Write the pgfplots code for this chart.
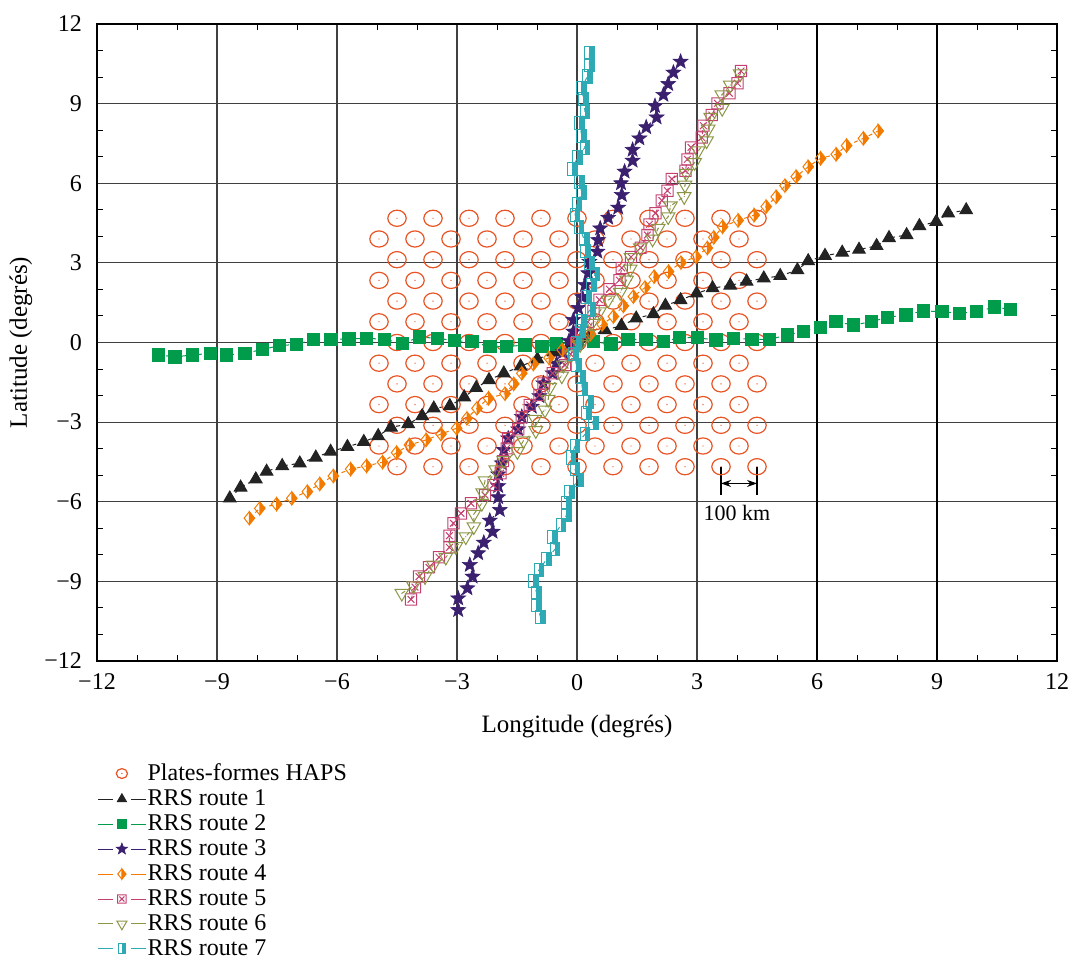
\documentclass[border=0pt]{standalone}
\usepackage{pgfplots}
\pgfplotsset{compat=1.18}
\usepackage{fontspec}
\setmainfont{Liberation Serif}
\usetikzlibrary{arrows.meta}

\definecolor{cHaps}{RGB}{232,84,36}
\definecolor{cR1}{RGB}{35,35,35}
\definecolor{cR2}{RGB}{0,155,75}
\definecolor{cR3}{RGB}{58,32,110}
\definecolor{cR4}{RGB}{242,122,0}
\definecolor{cR5}{RGB}{196,64,112}
\definecolor{cR6}{RGB}{140,150,70}
\definecolor{cR7}{RGB}{45,170,180}

\pgfdeclareplotmark{haps}{%
  \pgfpathellipse{\pgfpointorigin}{\pgfqpoint{\pgfplotmarksize}{0pt}}{\pgfqpoint{0pt}{0.88\pgfplotmarksize}}%
  \pgfusepathqstroke
  \pgfpathcircle{\pgfpointorigin}{0.35pt}%
  \pgfusepathqfill}
\pgfdeclareplotmark{fstar}{%
  \pgfpathmoveto{\pgfpointpolar{90}{\pgfplotmarksize}}%
  \pgfpathlineto{\pgfpointpolar{126}{0.42\pgfplotmarksize}}%
  \pgfpathlineto{\pgfpointpolar{162}{\pgfplotmarksize}}%
  \pgfpathlineto{\pgfpointpolar{198}{0.42\pgfplotmarksize}}%
  \pgfpathlineto{\pgfpointpolar{234}{\pgfplotmarksize}}%
  \pgfpathlineto{\pgfpointpolar{270}{0.42\pgfplotmarksize}}%
  \pgfpathlineto{\pgfpointpolar{306}{\pgfplotmarksize}}%
  \pgfpathlineto{\pgfpointpolar{342}{0.42\pgfplotmarksize}}%
  \pgfpathlineto{\pgfpointpolar{18}{\pgfplotmarksize}}%
  \pgfpathlineto{\pgfpointpolar{54}{0.42\pgfplotmarksize}}%
  \pgfpathclose
  \pgfusepathqfillstroke}
\pgfdeclareplotmark{hdiamond}{%
  \pgfpathmoveto{\pgfqpoint{0pt}{\pgfplotmarksize}}%
  \pgfpathlineto{\pgfqpoint{0.8\pgfplotmarksize}{0pt}}%
  \pgfpathlineto{\pgfqpoint{0pt}{-\pgfplotmarksize}}%
  \pgfpathclose
  \pgfusepathqfillstroke
  \pgfpathmoveto{\pgfqpoint{0pt}{\pgfplotmarksize}}%
  \pgfpathlineto{\pgfqpoint{-0.8\pgfplotmarksize}{0pt}}%
  \pgfpathlineto{\pgfqpoint{0pt}{-\pgfplotmarksize}}%
  \pgfusepathqstroke}
\pgfdeclareplotmark{xsquare}{%
  \pgfpathrectangle{\pgfqpoint{-\pgfplotmarksize}{-\pgfplotmarksize}}{\pgfqpoint{2\pgfplotmarksize}{2\pgfplotmarksize}}%
  \pgfpathmoveto{\pgfqpoint{-0.6\pgfplotmarksize}{-0.6\pgfplotmarksize}}%
  \pgfpathlineto{\pgfqpoint{0.6\pgfplotmarksize}{0.6\pgfplotmarksize}}%
  \pgfpathmoveto{\pgfqpoint{-0.6\pgfplotmarksize}{0.6\pgfplotmarksize}}%
  \pgfpathlineto{\pgfqpoint{0.6\pgfplotmarksize}{-0.6\pgfplotmarksize}}%
  \pgfusepathqstroke}
\pgfdeclareplotmark{dtri}{%
  \pgfpathmoveto{\pgfqpoint{0pt}{-\pgfplotmarksize}}%
  \pgfpathlineto{\pgfqpoint{0.866\pgfplotmarksize}{0.5\pgfplotmarksize}}%
  \pgfpathlineto{\pgfqpoint{-0.866\pgfplotmarksize}{0.5\pgfplotmarksize}}%
  \pgfpathclose
  \pgfusepathqstroke
  \pgfpathcircle{\pgfpointorigin}{0.3pt}%
  \pgfusepathqfill}
\pgfdeclareplotmark{hsquare}{%
  \pgfpathrectangle{\pgfqpoint{-0.75\pgfplotmarksize}{-\pgfplotmarksize}}{\pgfqpoint{1.5\pgfplotmarksize}{2\pgfplotmarksize}}%
  \pgfusepathqstroke
  \pgfpathrectangle{\pgfqpoint{-0.05\pgfplotmarksize}{-\pgfplotmarksize}}{\pgfqpoint{0.8\pgfplotmarksize}{2\pgfplotmarksize}}%
  \pgfusepathqfill}

\pgfplotsset{
  rleg/.style={legend image code/.code={%
    \draw[##1,solid] (0pt,0pt) -- (7.5pt,0pt) (16.5pt,0pt) -- (24pt,0pt);
    \draw[##1,solid,only marks,mark size=#1] plot coordinates {(12pt,0pt)};}},
  hapslegend/.style={legend image code/.code={\draw[##1, mark size=2.8pt] plot coordinates {(12pt,0pt)};}},
}

\begin{document}
\begin{tikzpicture}
\useasboundingbox (-48.5pt,-150pt) rectangle (486.5pt,330.5pt);
\begin{axis}[
  at={(0,0)}, anchor=south west,
  width=480pt, height=318.5pt, scale only axis,
  xmin=-12, xmax=12, ymin=-12, ymax=12,
  xtick={-12,-9,-6,-3,0,3,6,9,12},
  xticklabels={−12,−9,−6,−3,0,3,6,9,12},
  ytick={-12,-9,-6,-3,0,3,6,9,12},
  yticklabels={−12,−9,−6,−3,0,3,6,9,12},
  minor tick num=2,
  tick align=inside,
  grid=major, major grid style={black!75, line width=0.6pt},
  axis line style={line width=0.8pt},
  major tick style={draw=none},
  minor tick style={draw=black, line width=0.5pt},
  minor tick length=3pt,
  extra x ticks={6,9}, extra x tick labels={},
  extra x tick style={grid=major, major grid style={black, line width=1.4pt}},
  xlabel={Longitude (degrés)}, ylabel={Latitude (degrés)},
  every axis x label/.style={at={(axis description cs:0.5,0)}, anchor=center, yshift=-33pt, font=\fontsize{12.5}{14}\selectfont},
  every axis y label/.style={at={(axis description cs:0,0.5)}, xshift=-38pt, rotate=90, anchor=center, font=\fontsize{12.5}{14}\selectfont},
  tick label style={font=\fontsize{12}{14}\selectfont},
  xticklabel style={yshift=-3pt},
  yticklabel style={xshift=-4pt},
  legend style={at={(0,0)}, anchor=north west, yshift=-50.5pt, draw=none, fill=none,
    inner sep=0pt, font=\fontsize{12}{14}\selectfont, row sep=1.85pt,
    nodes={inner sep=0.6pt}},
  legend cell align=left,
  every axis plot/.append style={line width=0.5pt, dash pattern=on 2pt off 2pt},
]
% HAPS platforms (hexagonal grid)
\addplot[only marks, mark=haps, mark size=4.6pt, color=cHaps, fill=cHaps, mark options={solid, line width=0.6pt}, hapslegend] coordinates {
(-4.5,4.68)(-3.6,4.68)(-2.7,4.68)(-1.8,4.68)(-0.9,4.68)(0,4.68)(0.9,4.68)(1.8,4.68)(2.7,4.68)(3.6,4.68)(4.5,4.68)
(-4.95,3.9)(-4.05,3.9)(-3.15,3.9)(-2.25,3.9)(-1.35,3.9)(-0.45,3.9)(0.45,3.9)(1.35,3.9)(2.25,3.9)(3.15,3.9)(4.05,3.9)
(-4.5,3.12)(-3.6,3.12)(-2.7,3.12)(-1.8,3.12)(-0.9,3.12)(0,3.12)(0.9,3.12)(1.8,3.12)(2.7,3.12)(3.6,3.12)(4.5,3.12)
(-4.95,2.34)(-4.05,2.34)(-3.15,2.34)(-2.25,2.34)(-1.35,2.34)(-0.45,2.34)(0.45,2.34)(1.35,2.34)(2.25,2.34)(3.15,2.34)(4.05,2.34)
(-4.5,1.56)(-3.6,1.56)(-2.7,1.56)(-1.8,1.56)(-0.9,1.56)(0,1.56)(0.9,1.56)(1.8,1.56)(2.7,1.56)(3.6,1.56)(4.5,1.56)
(-4.95,0.78)(-4.05,0.78)(-3.15,0.78)(-2.25,0.78)(-1.35,0.78)(-0.45,0.78)(0.45,0.78)(1.35,0.78)(2.25,0.78)(3.15,0.78)(4.05,0.78)
(-4.5,0)(-3.6,0)(-2.7,0)(-1.8,0)(-0.9,0)(0,0)(0.9,0)(1.8,0)(2.7,0)(3.6,0)(4.5,0)
(-4.95,-0.78)(-4.05,-0.78)(-3.15,-0.78)(-2.25,-0.78)(-1.35,-0.78)(-0.45,-0.78)(0.45,-0.78)(1.35,-0.78)(2.25,-0.78)(3.15,-0.78)(4.05,-0.78)
(-4.5,-1.56)(-3.6,-1.56)(-2.7,-1.56)(-1.8,-1.56)(-0.9,-1.56)(0,-1.56)(0.9,-1.56)(1.8,-1.56)(2.7,-1.56)(3.6,-1.56)(4.5,-1.56)
(-4.95,-2.34)(-4.05,-2.34)(-3.15,-2.34)(-2.25,-2.34)(-1.35,-2.34)(-0.45,-2.34)(0.45,-2.34)(1.35,-2.34)(2.25,-2.34)(3.15,-2.34)(4.05,-2.34)
(-4.5,-3.12)(-3.6,-3.12)(-2.7,-3.12)(-1.8,-3.12)(-0.9,-3.12)(0,-3.12)(0.9,-3.12)(1.8,-3.12)(2.7,-3.12)(3.6,-3.12)(4.5,-3.12)
(-4.95,-3.9)(-4.05,-3.9)(-3.15,-3.9)(-2.25,-3.9)(-1.35,-3.9)(-0.45,-3.9)(0.45,-3.9)(1.35,-3.9)(2.25,-3.9)(3.15,-3.9)(4.05,-3.9)
(-4.5,-4.68)(-3.6,-4.68)(-2.7,-4.68)(-1.8,-4.68)(-0.9,-4.68)(0,-4.68)(0.9,-4.68)(1.8,-4.68)(2.7,-4.68)(3.6,-4.68)(4.5,-4.68)
};
\addlegendentry{Plates-formes HAPS}
% Route 1
\addplot[color=cR1, mark=triangle*, mark size=3.6pt, mark options={solid, fill=cR1}, rleg=2.6pt] coordinates {
(-8.68,-5.87)(-8.41,-5.46)(-8.03,-5.15)(-7.76,-4.86)(-7.37,-4.65)(-6.93,-4.55)(-6.53,-4.33)(-6.16,-4.11)(-5.74,-3.93)(-5.33,-3.74)(-4.97,-3.52)(-4.65,-3.20)(-4.22,-3.07)(-3.87,-2.77)(-3.58,-2.48)(-3.18,-2.39)(-2.82,-2.06)(-2.52,-1.71)(-2.20,-1.41)(-1.83,-1.16)(-1.41,-0.90)(-0.99,-0.63)(-0.58,-0.37)(-0.15,-0.09)(0.28,0.18)(0.70,0.47)(1.11,0.63)(1.48,0.91)(1.91,1.07)(2.21,1.39)(2.59,1.60)(2.99,1.85)(3.39,2.05)(3.83,2.15)(4.24,2.30)(4.67,2.42)(5.08,2.51)(5.51,2.73)(5.78,3.07)(6.20,3.27)(6.63,3.39)(7.05,3.50)(7.49,3.64)(7.80,3.94)(8.24,4.05)(8.56,4.39)(8.98,4.55)(9.28,4.87)(9.73,4.99)
};
\addlegendentry{RRS route 1}
% Route 2
\addplot[color=cR2, mark=square*, mark size=3.1pt, mark options={solid, fill=cR2}, rleg=2.1pt] coordinates {
(-10.47,-0.47)(-10.05,-0.54)(-9.61,-0.47)(-9.16,-0.41)(-8.76,-0.47)(-8.30,-0.41)(-7.86,-0.26)(-7.44,-0.12)(-7.01,-0.07)(-6.59,0.12)(-6.15,0.12)(-5.70,0.13)(-5.26,0.16)(-4.82,0.12)(-4.36,-0.03)(-3.94,0.20)(-3.49,0.16)(-3.07,0.07)(-2.63,0.03)(-2.18,-0.16)(-1.76,-0.16)(-1.30,-0.09)(-0.88,-0.16)(-0.51,-0.06)(0,0.02)(0.41,0.03)(0.85,-0.06)(1.27,0.12)(1.72,0.12)(2.16,0.03)(2.56,0.18)(3.01,0.18)(3.47,0.09)(3.91,0.16)(4.37,0.12)(4.81,0.12)(5.26,0.28)(5.66,0.42)(6.08,0.57)(6.47,0.78)(6.91,0.66)(7.36,0.78)(7.76,0.95)(8.22,1.04)(8.66,1.19)(9.12,1.16)(9.56,1.10)(9.99,1.16)(10.43,1.33)(10.83,1.25)
};
\addlegendentry{RRS route 2}
% Route 3
\addplot[color=cR3, mark=fstar, mark size=3.9pt, mark options={solid, fill=cR3, line width=0.3pt}, rleg=3pt] coordinates {
(-2.97,-10.08)(-2.97,-9.64)(-2.74,-9.26)(-2.61,-8.82)(-2.68,-8.38)(-2.47,-7.94)(-2.33,-7.54)(-2.11,-7.13)(-2.18,-6.71)(-1.93,-6.31)(-1.97,-5.83)(-1.97,-5.41)(-1.97,-4.97)(-1.88,-4.55)(-1.83,-4.05)(-1.72,-3.61)(-1.47,-3.27)(-1.38,-2.80)(-1.13,-2.42)(-0.94,-2.02)(-0.84,-1.54)(-0.61,-1.16)(-0.51,-0.80)(-0.35,-0.36)(-0.20,0.06)(-0.09,0.41)(-0.09,0.85)(0.03,1.30)(0.13,1.71)(0.20,2.17)(0.28,2.61)(0.31,3.04)(0.51,3.42)(0.53,3.86)(0.58,4.30)(0.78,4.70)(1.03,5.08)(1.12,5.56)(1.10,6.00)(1.19,6.44)(1.39,6.85)(1.39,7.26)(1.56,7.69)(1.73,8.11)(1.99,8.48)(1.95,8.91)(2.16,9.33)(2.28,9.74)(2.41,10.17)(2.59,10.58)
};
\addlegendentry{RRS route 3}
% Route 4
\addplot[color=cR4, mark=hdiamond, mark size=3.3pt, mark options={solid, fill=cR4}, rleg=2.6pt] coordinates {
(-8.19,-6.62)(-7.93,-6.25)(-7.51,-6.09)(-7.13,-5.87)(-6.74,-5.62)(-6.43,-5.33)(-6.09,-5.03)(-5.66,-4.77)(-5.26,-4.65)(-4.86,-4.51)(-4.51,-4.15)(-4.19,-3.86)(-3.77,-3.67)(-3.40,-3.45)(-3.01,-3.23)(-2.75,-2.86)(-2.50,-2.48)(-2.21,-2.10)(-1.80,-1.93)(-1.58,-1.56)(-1.38,-1.16)(-1.09,-0.81)(-0.70,-0.58)(-0.37,-0.28)(0.00,0.06)(0.34,0.32)(0.63,0.68)(0.91,0.98)(1.16,1.38)(1.41,1.73)(1.70,2.07)(1.93,2.48)(2.29,2.67)(2.60,3.01)(2.98,3.23)(3.26,3.56)(3.42,3.96)(3.64,4.36)(4.03,4.60)(4.43,4.80)(4.73,5.12)(4.98,5.49)(5.20,5.91)(5.48,6.25)(5.78,6.62)(6.09,6.94)(6.48,7.09)(6.74,7.42)(7.16,7.69)(7.53,7.97)
};
\addlegendentry{RRS route 4}
% Route 5
\addplot[color=cR5, mark=xsquare, mark size=2.8pt, mark options={solid}, rleg=2.1pt] coordinates {
(-4.15,-9.68)(-4.05,-9.22)(-3.95,-8.82)(-3.70,-8.47)(-3.45,-8.09)(-3.19,-7.72)(-3.19,-7.28)(-3.09,-6.81)(-2.90,-6.44)(-2.65,-6.06)(-2.30,-5.75)(-2.09,-5.37)(-1.91,-4.93)(-1.85,-4.47)(-1.76,-3.99)(-1.72,-3.61)(-1.47,-3.27)(-1.38,-2.82)(-1.18,-2.35)(-0.94,-1.98)(-0.84,-1.54)(-0.61,-1.16)(-0.30,-0.85)(-0.16,-0.44)(-0.02,-0.03)(0.13,0.38)(0.27,0.78)(0.41,1.19)(0.56,1.61)(0.81,2.01)(1.06,2.35)(1.12,2.81)(1.35,3.22)(1.59,3.57)(1.76,4.05)(1.81,4.45)(1.96,4.87)(2.12,5.35)(2.26,5.72)(2.37,6.16)(2.71,6.47)(2.76,6.90)(2.85,7.35)(3.12,7.72)(3.16,8.17)(3.37,8.57)(3.51,9.01)(3.81,9.39)(4.01,9.77)(4.10,10.23)
};
\addlegendentry{RRS route 5}
% Route 6
\addplot[color=cR6, mark=dtri, mark size=3.9pt, mark options={solid, fill=cR6}, rleg=2.9pt] coordinates {
(-4.38,-9.45)(-4.09,-9.17)(-3.80,-8.82)(-3.59,-8.38)(-3.28,-8.09)(-3.03,-7.69)(-2.78,-7.32)(-2.58,-6.94)(-2.58,-6.47)(-2.38,-6.06)(-2.36,-5.66)(-2.30,-5.21)(-2.03,-4.80)(-1.83,-4.45)(-1.49,-4.11)(-1.34,-3.70)(-1.03,-3.32)(-1.05,-2.89)(-0.80,-2.54)(-0.72,-2.14)(-0.68,-1.69)(-0.38,-1.26)(-0.34,-0.85)(-0.14,-0.46)(0.08,-0.08)(0.28,0.31)(0.37,0.72)(0.56,1.16)(0.78,1.60)(1.08,1.89)(1.24,2.35)(1.33,2.77)(1.35,3.20)(1.58,3.57)(1.89,3.90)(2.03,4.30)(2.28,4.74)(2.34,5.15)(2.68,5.50)(2.70,5.93)(2.73,6.38)(2.94,6.78)(3.03,7.22)(3.24,7.60)(3.28,8.04)(3.34,8.49)(3.63,8.82)(3.62,9.33)(3.83,9.70)(4.08,10.12)
};
\addlegendentry{RRS route 6}
% Route 7
\addplot[color=cR7, mark=hsquare, mark size=3.3pt, mark options={solid, fill=cR7}, rleg=2.5pt] coordinates {
(-0.91,-10.35)(-1.01,-9.89)(-1.01,-9.45)(-1.08,-8.99)(-0.95,-8.57)(-0.76,-8.17)(-0.55,-7.79)(-0.61,-7.34)(-0.40,-6.88)(-0.26,-6.50)(-0.26,-6.06)(-0.19,-5.62)(0.03,-5.19)(-0.05,-4.78)(-0.15,-4.33)(-0.05,-3.90)(0.20,-3.46)(0.41,-3.04)(0.23,-2.67)(0.28,-2.23)(0.14,-1.76)(0.08,-1.31)(-0.01,-0.85)(-0.09,-0.43)(-0.01,-0.03)(0.08,0.42)(0.12,0.82)(0.33,1.24)(0.23,1.70)(0.36,2.17)(0.45,2.57)(0.31,3.00)(0.22,3.44)(0.18,3.89)(0.05,4.34)(-0.05,4.80)(0.00,5.21)(0.12,5.65)(0.06,6.06)(-0.11,6.53)(0.01,6.97)(0.20,7.35)(0.12,7.79)(0.06,8.26)(0.20,8.70)(0.16,9.16)(0.12,9.60)(0.26,10.02)(0.31,10.46)(0.31,10.90)
};
\addlegendentry{RRS route 7}
% 100 km scale bar
\draw[line width=0.6pt, solid] (axis cs:3.6,-4.70) -- (axis cs:3.6,-5.75);
\draw[line width=0.6pt, solid] (axis cs:4.5,-4.70) -- (axis cs:4.5,-5.75);
\draw[line width=0.6pt, solid, {Stealth[length=5pt,width=3.5pt]}-{Stealth[length=5pt,width=3.5pt]}] (axis cs:3.6,-5.31) -- (axis cs:4.5,-5.31);
\node[font=\fontsize{11}{13}\selectfont] at (axis cs:4.0,-6.42) {100 km};
\end{axis}
\end{tikzpicture}
\end{document}
